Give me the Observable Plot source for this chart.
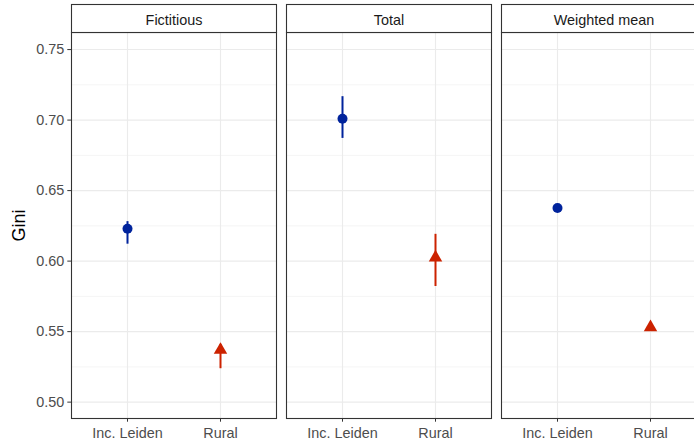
<!DOCTYPE html>
<html>
<head>
<meta charset="utf-8">
<script src="https://cdn.jsdelivr.net/npm/d3@7"></script>
<script src="https://cdn.jsdelivr.net/npm/@observablehq/plot@0.6"></script>
<style>
  html, body { margin: 0; padding: 0; background: #fff; overflow: hidden; }
  #chart { width: 694px; height: 442px; overflow: hidden; }
  #chart svg { max-width: none !important; }
</style>
</head>
<body>
<div id="chart"></div>
<script>
// Data
const panels = ["Fictitious", "Total", "Weighted mean"];
const groups = ["Inc. Leiden", "Rural"];
const panel = ["Fictitious", "Fictitious", "Total", "Total", "Weighted mean", "Weighted mean"];
const group = ["Inc. Leiden", "Rural", "Inc. Leiden", "Rural", "Inc. Leiden", "Rural"];
const gini  = [0.623, 0.537, 0.701, 0.6025, 0.6377, 0.553];
const lower = [0.612, 0.5237, 0.687, 0.582, null, null];
const upper = [0.628, 0.541, 0.7166, 0.619, null, null];
const yTicks = [0.50, 0.55, 0.60, 0.65, 0.70, 0.75];
const yMinor = [0.525, 0.575, 0.625, 0.675, 0.725];
const colors = ["#00239C", "#CC2200"];
const symbols = ["circle", "triangle"];

const rows = panel.map((p, i) => ({panel: p, group: group[i], gini: gini[i], lo: lower[i], hi: upper[i]}));
const errRows = rows.filter(d => d.lo != null);

const font = "'Liberation Sans', Arial, Helvetica, sans-serif";

const chart = Plot.plot({
  width: 707,
  height: 442,
  marginLeft: 71,
  marginRight: 1,
  marginTop: 32,
  marginBottom: 24,
  style: {fontFamily: font, background: "#fff", overflow: "visible", maxWidth: "none"},
  fx: {domain: panels, paddingInner: 10 / 215, paddingOuter: 0, label: null},
  x: {type: "point", domain: groups, padding: 0.6, label: null},
  y: {domain: [0.4884, 0.7621], label: null},
  color: {domain: groups, range: colors},
  symbol: {domain: groups, range: symbols},
  marks: [
    Plot.gridY({ticks: yMinor, stroke: "#EBEBEB", strokeOpacity: 1, strokeWidth: 0.55}),
    Plot.gridY({ticks: yTicks, stroke: "#EBEBEB", strokeOpacity: 1, strokeWidth: 1.1}),
    Plot.gridX({stroke: "#EBEBEB", strokeOpacity: 1, strokeWidth: 1.1}),
    Plot.frame({stroke: "#333333", strokeWidth: 1.1}),
    Plot.frame({stroke: "#333333", strokeWidth: 1.1, fill: "#fff", insetTop: -28, insetBottom: 386}),
    Plot.axisFx({anchor: "top", tickSize: 0, tickPadding: 8, fontSize: 14.4, fill: "#1A1A1A", label: null}),
    Plot.axisY({ticks: yTicks, tickFormat: ".2f", tickSize: 3.7, tickPadding: 3.5, fontSize: 14.4, color: "#4D4D4D", stroke: "#333333", label: null}),
    Plot.axisX({anchor: "bottom", tickSize: 3.7, tickPadding: 6, fontSize: 14.4, color: "#4D4D4D", stroke: "#333333", label: null}),
    Plot.text(["Gini"], {facet: "super", frameAnchor: "left", textAnchor: "middle", lineAnchor: "middle", rotate: -90, dx: -52, fontSize: 18, fill: "#000"}),
    Plot.ruleX(errRows, {fx: "panel", x: "group", y1: "lo", y2: "hi", stroke: "group", strokeWidth: 2}),
    Plot.dot(rows, {fx: "panel", x: "group", y: "gini", fill: "group", symbol: "group", r: 5, stroke: null})
  ]
});
document.getElementById("chart").appendChild(chart);
</script>
</body>
</html>
